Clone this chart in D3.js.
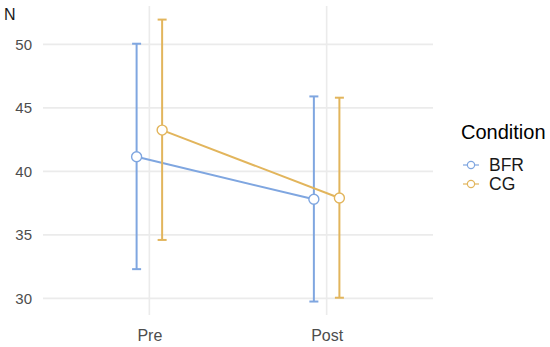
<!DOCTYPE html>
<html>
<head>
<meta charset="utf-8">
<script src="https://cdn.jsdelivr.net/npm/d3@7"></script>
<style>
  body { margin: 0; background: #fff; }
  text { font-family: "Liberation Sans", Arial, sans-serif; }
</style>
</head>
<body>
<div id="chart"></div>
<script>
// data
var times = ["Pre", "Post"];
var conditions = ["BFR", "CG"];
var bfrMean = [41.15, 37.8];
var bfrUpper = [50.05, 45.9];
var bfrLower = [32.3, 29.75];
var cgMean = [43.25, 37.9];
var cgUpper = [51.95, 45.8];
var cgLower = [34.6, 30.05];
var yTicks = [30, 35, 40, 45, 50];
var colors = ["#7fa6e0", "#e2b55c"];

var width = 550, height = 347;
var panel = {left: 43, right: 433, top: 6, bottom: 315};

var svg = d3.select("#chart")
  .append("svg")
    .attr("width", width)
    .attr("height", height);

var x = d3.scalePoint()
  .domain(times)
  .range([panel.left, panel.right])
  .padding(0.6);

var y = d3.scaleLinear()
  .domain([28.69, 53.02])
  .range([panel.bottom, panel.top]);

var dodge = x.step() * 0.072;

// grid
svg.append("g")
  .selectAll("line")
  .data(yTicks)
  .enter().append("line")
    .attr("x1", panel.left).attr("x2", panel.right)
    .attr("y1", function(d) { return y(d); })
    .attr("y2", function(d) { return y(d); })
    .attr("stroke", "#ebebeb")
    .attr("stroke-width", 1.6);

svg.append("g")
  .selectAll("line")
  .data(times)
  .enter().append("line")
    .attr("x1", function(d) { return x(d); })
    .attr("x2", function(d) { return x(d); })
    .attr("y1", panel.top).attr("y2", panel.bottom)
    .attr("stroke", "#ebebeb")
    .attr("stroke-width", 1.6);

// y axis
var yAxis = svg.append("g")
  .attr("transform", "translate(" + (panel.left - 5) + ",0)")
  .call(d3.axisLeft(y).tickValues(yTicks).tickSize(0).tickPadding(6));
yAxis.select(".domain").remove();
yAxis.selectAll("text")
  .attr("fill", "#4d4d4d")
  .style("font-size", "15px")
  .style("font-family", "Liberation Sans, Arial, sans-serif");

// x axis
var xAxis = svg.append("g")
  .attr("transform", "translate(0," + (panel.bottom + 10) + ")")
  .call(d3.axisBottom(x).tickSize(0).tickPadding(5));
xAxis.select(".domain").remove();
xAxis.selectAll("text")
  .attr("fill", "#4d4d4d")
  .style("font-size", "16px")
  .style("font-family", "Liberation Sans, Arial, sans-serif");

svg.append("text")
  .attr("x", 4).attr("y", 20)
  .style("font-size", "16px")
  .attr("fill", "#1a1a1a")
  .text("N");

var series = [
  {name: conditions[0], mean: bfrMean, upper: bfrUpper, lower: bfrLower, color: colors[0], off: -dodge},
  {name: conditions[1], mean: cgMean, upper: cgUpper, lower: cgLower, color: colors[1], off: dodge}
];

series.forEach(function(s) {
  var g = svg.append("g");
  var pts = times.map(function(t, i) {
    return {t: t, m: s.mean[i], hi: s.upper[i], lo: s.lower[i]};
  });
  var cx = function(d) { return x(d.t) + s.off; };

  // error bars
  pts.forEach(function(d) {
    g.append("line")
      .attr("x1", cx(d)).attr("x2", cx(d))
      .attr("y1", y(d.lo)).attr("y2", y(d.hi))
      .attr("stroke", s.color).attr("stroke-width", 2);
    [d.lo, d.hi].forEach(function(v) {
      g.append("line")
        .attr("x1", cx(d) - 4.5).attr("x2", cx(d) + 4.5)
        .attr("y1", y(v)).attr("y2", y(v))
        .attr("stroke", s.color).attr("stroke-width", 2);
    });
  });

  g.append("path")
    .datum(pts)
    .attr("fill", "none")
    .attr("stroke", s.color)
    .attr("stroke-width", 2)
    .attr("d", d3.line()
      .x(cx)
      .y(function(d) { return y(d.m); }));

  g.selectAll("circle")
    .data(pts)
    .enter().append("circle")
      .attr("cx", cx)
      .attr("cy", function(d) { return y(d.m); })
      .attr("r", 5)
      .attr("fill", "#fff")
      .attr("stroke", s.color)
      .attr("stroke-width", 1.4);
});

// legend
var legend = svg.append("g");
legend.append("text")
  .attr("x", 461).attr("y", 139)
  .style("font-size", "20px")
  .attr("fill", "#000")
  .text("Condition");

series.forEach(function(s, i) {
  var ky = 165 + i * 19;
  legend.append("line")
    .attr("x1", 463).attr("x2", 479)
    .attr("y1", ky).attr("y2", ky)
    .attr("stroke", s.color).attr("stroke-width", 1.2);
  legend.append("circle")
    .attr("cx", 471).attr("cy", ky).attr("r", 3.6)
    .attr("fill", "#fff")
    .attr("stroke", s.color).attr("stroke-width", 1.2);
  legend.append("text")
    .attr("x", 489).attr("y", ky + 6)
    .style("font-size", "17.5px")
    .attr("fill", "#1a1a1a")
    .text(s.name);
});
</script>
</body>
</html>
